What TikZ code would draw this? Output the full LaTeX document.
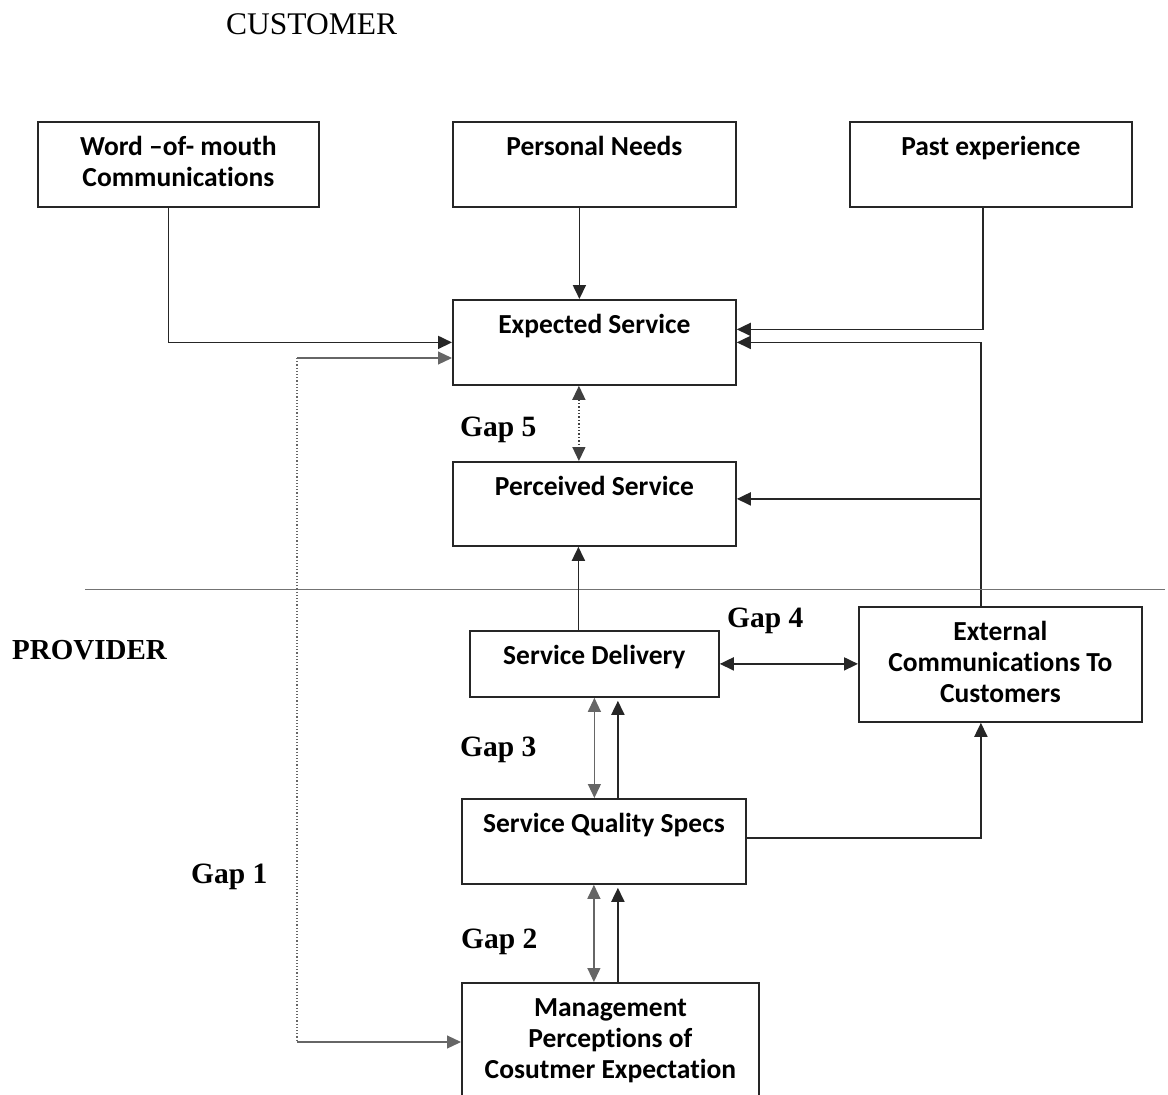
\documentclass[tikz,border=0pt]{standalone}
\usepackage{fontspec}
\setmainfont{Liberation Serif}
\newfontfamily\calib[Ligatures=NoCommon]{Carlito}
\usetikzlibrary{arrows.meta}
\newcommand{\boxtxt}[3]{\parbox[t][#2][t]{#1}{\centering\rule{0pt}{34pt}#3}}

\begin{document}
\begin{tikzpicture}[x=1pt,y=-1pt,>={Triangle[length=14pt,width=13pt]},
  box/.style={draw=black!85,line width=1.8pt,inner sep=0pt,anchor=north west,
    font=\calib\bfseries\fontsize{27.5}{31}\selectfont},
  conn/.style={draw=black!85,line width=1.8pt},
  faint/.style={draw=black!60,line width=1.2pt},
  gap/.style={anchor=base west,inner sep=0pt,font=\bfseries\fontsize{29.5}{33}\selectfont}]
\useasboundingbox (0,0) rectangle (1168,1095);

\node[anchor=base west,inner sep=0pt,font=\fontsize{31.5}{36}\selectfont] (customer) at (226,34) {CUSTOMER};

\node[box] (wom) at (37,121) {\boxtxt{281pt}{85pt}{Word \textendash of- mouth\\Communications}};
\node[box] (needs) at (452,121) {\boxtxt{283pt}{85pt}{Personal Needs}};
\node[box] (past) at (849,121) {\boxtxt{282pt}{85pt}{Past experience}};
\node[box] (expect) at (452,299) {\boxtxt{283pt}{85pt}{Expected Service}};
\node[box] (perceive) at (452,461) {\boxtxt{283pt}{84pt}{Perceived Service}};
\node[box] (deliver) at (469,630) {\boxtxt{249pt}{66pt}{Service Delivery}};
\node[box] (extcom) at (858,606) {\boxtxt{283pt}{115pt}{External\\Communications To\\Customers}};
\node[box] (specs) at (461,798) {\boxtxt{284pt}{85pt}{Service Quality Specs}};
\node[box] (mgmt) at (461,982) {\boxtxt{297pt}{120pt}{Management\\Perceptions of\\Cosutmer Expectation}};

\node[gap] (gapfive) at (460,436) {Gap 5};
\node[gap] (gapfour) at (727,627) {Gap 4};
\node[gap] (gapthree) at (460,756) {Gap 3};
\node[gap] (gaptwo) at (461,948) {Gap 2};
\node[gap] (gapone) at (191,883) {Gap 1};
\node[gap,font=\bfseries\fontsize{29}{33}\selectfont] (provider) at (12,659) {PROVIDER};

% customer side
\draw[conn,->] ([xshift=-10pt]wom.south) |- (expect.west);
\draw[conn,->] ([xshift=-15pt]needs.south) -- ([xshift=-15pt]expect.north);
\draw[conn,->] ([xshift=-8pt]past.south) |- ([yshift=13pt]expect.east);
\draw[conn,->] ([xshift=-19.5pt]extcom.north) |- (expect.east);
\draw[conn,->] ([xshift=-19.5pt]extcom.north) |- ([yshift=5pt]perceive.east);
\draw[draw=black!75,line width=1.4pt,dotted,<->] ([xshift=-15.5pt]expect.south) -- ([xshift=-15.5pt]perceive.north);

\draw[black!55,line width=1pt] (85,589) -- (1165,589);

% provider side
\coordinate (dtop) at ([xshift=-16pt]deliver.north);
\draw[conn,->] (dtop) -- (dtop |- perceive.south);
\draw[conn,<->] (deliver.east) -- (deliver.east -| extcom.west);
\draw[faint,<->] (deliver.south |- specs.north) -- (deliver.south);
\coordinate (dup) at ([xshift=23.5pt]deliver.south);
\draw[conn,->,shorten >=3pt] (dup |- specs.north) -- (dup);
\coordinate (sout) at ([yshift=3.5pt]specs.east);
\draw[conn,->] (sout) -| ([xshift=-19.5pt]extcom.south);
\coordinate (sdn) at ([xshift=-10pt]specs.south);
\draw[faint,<->] (sdn) -- (sdn |- mgmt.north);
\coordinate (sback) at ([xshift=14pt]specs.south);
\draw[conn,->,shorten >=3pt] (sback |- mgmt.north) -- (sback);

% gap 1
\coordinate (gapbend) at (297,358);
\coordinate (gapfoot) at (297,1042);
\draw[faint,->] (gapbend) -- (gapbend -| expect.west);
\draw[faint,dotted] (gapbend) -- (gapfoot);
\draw[faint,->] (gapfoot) -- (gapfoot -| mgmt.west);
\end{tikzpicture}
\end{document}
